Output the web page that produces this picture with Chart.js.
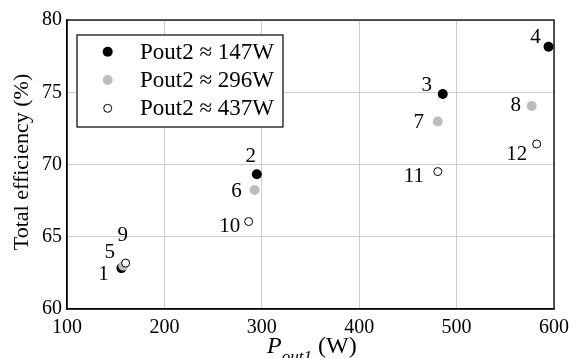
<!DOCTYPE html>
<html><head><meta charset="utf-8">
<style>html,body{margin:0;padding:0;background:#fff}#wrap{width:576px;height:358px;position:relative}</style>
<script src="https://cdn.jsdelivr.net/npm/chart.js@4.4.0/dist/chart.umd.min.js"></script>
</head><body><div id="wrap"><canvas id="c" width="576" height="358"></canvas></div>
<script>
// ---- data ----
const seriesNames = ['Pout2 \u2248 147W', 'Pout2 \u2248 296W', 'Pout2 \u2248 437W'];
const pout1_147 = [155.9, 294.9, 485.8, 594.4];
const eff_147   = [62.83, 69.33, 74.88, 78.15];
const ids_147   = ['1', '2', '3', '4'];
const pout1_296 = [157.8, 292.6, 480.7, 577.1];
const eff_296   = [63.00, 68.24, 72.97, 74.05];
const ids_296   = ['5', '6', '7', '8'];
const pout1_437 = [160.2, 286.5, 480.7, 582.2];
const eff_437   = [63.18, 66.05, 69.51, 71.42];
const ids_437   = ['9', '10', '11', '12'];
const xTicks = [100, 200, 300, 400, 500, 600];
const yTicks = [60, 65, 70, 75, 80];
const xTitle = ['P', 'out1', '(W)'];
const yTitle = 'Total efficiency (%)';

// label offsets (pixels, relative to the point) - style only
const offs_147 = [[-18, 6], [-6, -18], [-16, -8], [-13, -9]];
const offs_296 = [[-13.5, -13], [-18, 2], [-19, 1], [-16, 0]];
const offs_437 = [[-3, -28], [-19, 5], [-24, 5], [-20, 11]];

const FONT = '"Liberation Serif", "Times New Roman", serif';

function pts(xs, ys) { return xs.map((x, i) => ({ x: x, y: ys[i] })); }

const datasets = [
  { label: seriesNames[0], data: pts(pout1_147, eff_147), ids: ids_147, offs: offs_147,
    pointRadius: 5, pointBackgroundColor: '#000', pointBorderColor: '#000', pointBorderWidth: 0, order: 3 },
  { label: seriesNames[1], data: pts(pout1_296, eff_296), ids: ids_296, offs: offs_296,
    pointRadius: 5, pointBackgroundColor: '#bdbdbd', pointBorderColor: '#bdbdbd', pointBorderWidth: 0, order: 2 },
  { label: seriesNames[2], data: pts(pout1_437, eff_437), ids: ids_437, offs: offs_437,
    pointRadius: 4, pointBackgroundColor: '#fff', pointBorderColor: '#000', pointBorderWidth: 1, order: 1 }
].map(d => Object.assign({ showLine: false, clip: false, pointHoverRadius: 0 }, d));

const framePlugin = {
  id: 'frame',
  beforeDatasetsDraw(chart) {
    const a = chart.chartArea, c = chart.ctx;
    c.save(); c.strokeStyle = '#000'; c.lineWidth = 1.3;
    c.strokeRect(a.left, a.top, a.right - a.left, a.bottom - a.top);
    c.restore();
  }
};

const labelPlugin = {
  id: 'ptlabels',
  afterDatasetsDraw(chart) {
    const c = chart.ctx;
    c.save(); c.fillStyle = '#000'; c.font = '21px ' + FONT;
    c.textAlign = 'center'; c.textBaseline = 'middle';
    chart.data.datasets.forEach((ds, i) => {
      const meta = chart.getDatasetMeta(i);
      meta.data.forEach((el, j) => {
        c.fillText(ds.ids[j], el.x + ds.offs[j][0], el.y + ds.offs[j][1]);
      });
    });
    c.restore();
  }
};

const legendPlugin = {
  id: 'boxlegend',
  afterDraw(chart) {
    const c = chart.ctx;
    const x0 = 77, y0 = 35, w = 206, h = 92;
    c.save();
    c.fillStyle = '#fff'; c.fillRect(x0, y0, w, h);
    c.strokeStyle = '#000'; c.lineWidth = 1.2; c.strokeRect(x0, y0, w, h);
    c.font = '23px ' + FONT; c.textAlign = 'left'; c.textBaseline = 'middle';
    chart.data.datasets.forEach((ds, i) => {
      const cy = 51.7 + i * 28.3, cx = 107.7;
      c.beginPath(); c.arc(cx, cy, ds.pointRadius, 0, Math.PI * 2);
      c.fillStyle = ds.pointBackgroundColor; c.fill();
      if (ds.pointBorderWidth > 0) { c.lineWidth = ds.pointBorderWidth; c.strokeStyle = ds.pointBorderColor; c.stroke(); }
      c.fillStyle = '#000';
      c.fillText(ds.label, 140, cy + 1);
    });
    c.restore();
  }
};

const titlePlugin = {
  id: 'titles',
  afterDraw(chart) {
    const c = chart.ctx;
    c.save(); c.fillStyle = '#000';
    // y title
    c.translate(22, 162);
    c.rotate(-Math.PI / 2);
    c.font = '22px ' + FONT; c.textAlign = 'center'; c.textBaseline = 'middle';
    c.fillText(yTitle, 0, 0);
    c.restore();
    // x title
    c.save(); c.fillStyle = '#000'; c.textAlign = 'left'; c.textBaseline = 'alphabetic';
    let x = 267; const base = 353;
    c.font = 'italic 24px ' + FONT; c.fillText(xTitle[0], x, base); x += c.measureText(xTitle[0]).width;
    c.font = 'italic 17px ' + FONT; c.fillText(xTitle[1], x, base + 9);
    c.font = '24px ' + FONT; c.fillText(xTitle[2], 318, base);
    c.restore();
  }
};

new Chart(document.getElementById('c').getContext('2d'), {
  type: 'scatter',
  data: { datasets: datasets },
  options: {
    responsive: false, animation: false, devicePixelRatio: 1,
    layout: { padding: { left: 0, right: 18, top: 20, bottom: 0 } },
    plugins: { legend: { display: false }, tooltip: { enabled: false } },
    events: [],
    scales: {
      x: {
        type: 'linear', min: xTicks[0], max: xTicks[xTicks.length - 1],
        afterBuildTicks: s => { s.ticks = xTicks.map(v => ({ value: v })); },
        afterFit: s => { s.height = 49; },
        grid: { color: '#cccccc', lineWidth: 1, drawTicks: false },
        border: { display: true, color: '#000', width: 1.3 },
        ticks: { padding: 7, color: '#000', font: { family: FONT, size: 20 }, maxRotation: 0, autoSkip: false }
      },
      y: {
        type: 'linear', min: yTicks[0], max: yTicks[yTicks.length - 1],
        afterBuildTicks: s => { s.ticks = yTicks.map(v => ({ value: v })); },
        afterFit: s => { s.width = 67; },
        grid: { color: '#cccccc', lineWidth: 1, drawTicks: false },
        border: { display: true, color: '#000', width: 1.3 },
        ticks: { padding: 5, color: '#000', font: { family: FONT, size: 20 }, autoSkip: false }
      }
    }
  },
  plugins: [framePlugin, labelPlugin, legendPlugin, titlePlugin]
});
</script></body></html>
